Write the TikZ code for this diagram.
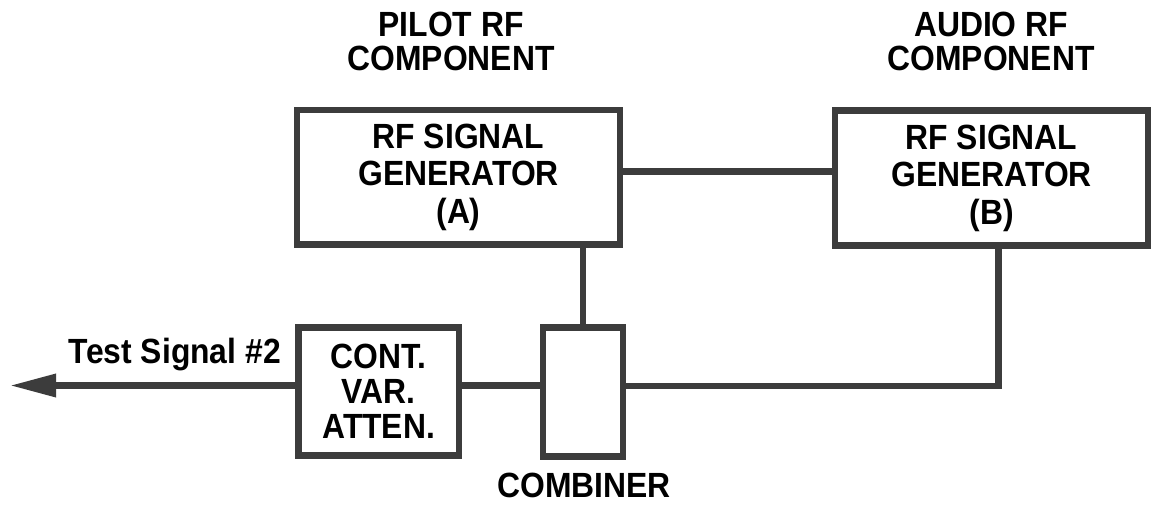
\documentclass[tikz,border=0pt]{standalone}
\usepackage{fontspec}
\setmainfont{Liberation Sans}[FakeStretch=0.91]
\usetikzlibrary{arrows.meta}
\definecolor{linegray}{RGB}{60,60,60}
\begin{document}
\begin{tikzpicture}[x=1pt,y=-1pt,
  box/.style={draw=linegray, line width=6.5pt, inner sep=0pt, outer sep=0pt, align=center,
    font=\fontsize{35}{37.5}\selectfont\bfseries},
  wire/.style={draw=linegray, line width=6.5pt, line join=miter},
  lbl/.style={inner sep=0pt, align=center, font=\fontsize{35}{34}\selectfont\bfseries}]
\fill[white] (0,0) rectangle (1151,507);
\useasboundingbox (0,0) rectangle (1151,507);

\node[box, minimum width=323pt, minimum height=134.5pt] (A) at (458.5,177.25) {RF SIGNAL\\GENERATOR\\(A)};
\node[box, minimum width=313pt, minimum height=135pt] (B) at (991.5,178) {RF SIGNAL\\GENERATOR\\(B)};
\node[box, minimum width=80pt, minimum height=129pt] (comb) at (583,392) {};
\node[box, minimum width=160.5pt, minimum height=128pt, font=\fontsize{35}{35}\selectfont\bfseries] (atten) at (378.75,391.5) {CONT.\\VAR.\\ATTEN.};

\node[lbl, anchor=north] (pilot) at (451,12) {PILOT RF\\COMPONENT};
\node[lbl, anchor=north] (audio) at (991,12) {AUDIO RF\\COMPONENT};
\node[lbl, anchor=base] (combl) at (584,497) {COMBINER};
\node[lbl, anchor=base east] (test) at (281,363) {Test Signal \#2};

\coordinate (out) at (10,385.5);

\draw[wire] ([yshift=6pt]A.east) -- ([yshift=6pt]A.east -| B.west);
\draw[wire] (A.south -| comb.north) -- (comb.north);
\draw[wire] ([yshift=6pt]atten.east) -- ([yshift=6pt]atten.east -| comb.west);
\draw[wire] ([yshift=6pt]comb.east) -| ([xshift=7pt]B.south);
\draw[wire, -{Triangle[length=46pt,width=22pt]}] ([yshift=6pt]atten.west) -- (out);
\end{tikzpicture}
\end{document}
